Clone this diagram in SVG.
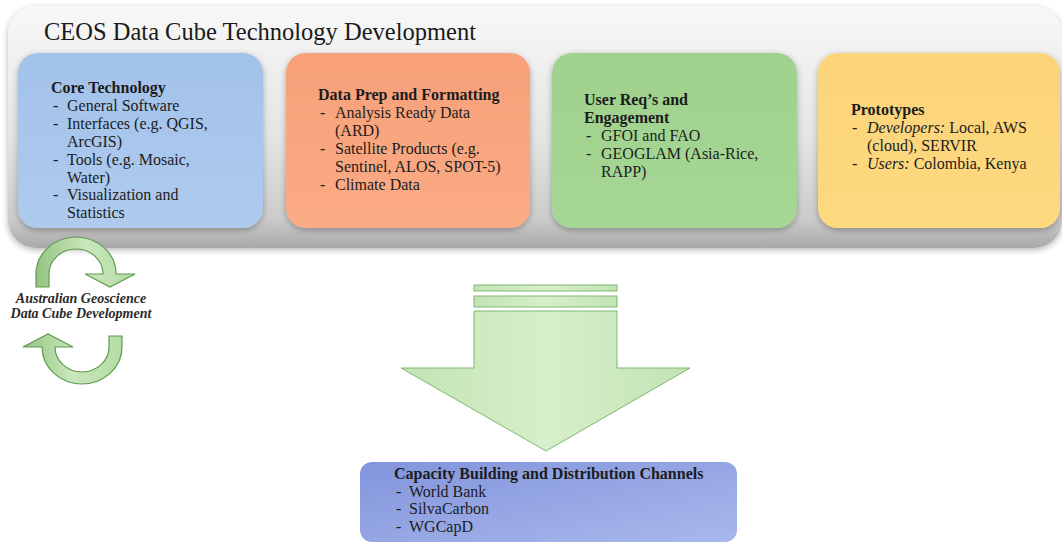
<svg xmlns="http://www.w3.org/2000/svg" width="1062" height="543" viewBox="0 0 1062 543">
  <style>
    .t { font-family: "Liberation Serif", "Times New Roman", serif; font-size: 16px; fill: #1c1c1c; }
    .h { font-weight: bold; }
    .i { font-style: italic; }
    .title { font-family: "Liberation Serif", "Times New Roman", serif; font-size: 24.5px; fill: #1a1a1a; }
    .cap { font-family: "Liberation Serif", "Times New Roman", serif; font-size: 14px; font-weight: bold; font-style: italic; fill: #2a2a2a; }
    .ga { fill: url(#ringGrad); stroke: #5f9a50; stroke-width: 1.2; }
    .big { fill: url(#bigGrad); stroke: #7fb870; stroke-width: 1; }
  </style>
  <defs>
    <linearGradient id="panelGrad" x1="0" y1="0" x2="0" y2="1">
      <stop offset="0" stop-color="#f8f8f8"/>
      <stop offset="0.55" stop-color="#e4e4e4"/>
      <stop offset="0.88" stop-color="#cbcbcb"/>
      <stop offset="1" stop-color="#a9a9a9"/>
    </linearGradient>
    <linearGradient id="blueGrad" x1="0" y1="0" x2="0" y2="1">
      <stop offset="0" stop-color="#a3c2ea"/>
      <stop offset="1" stop-color="#aecbee"/>
    </linearGradient>
    <linearGradient id="orangeGrad" x1="0" y1="0" x2="0" y2="1">
      <stop offset="0" stop-color="#f7a079"/>
      <stop offset="1" stop-color="#fbab85"/>
    </linearGradient>
    <linearGradient id="greenGrad" x1="0" y1="0" x2="0" y2="1">
      <stop offset="0" stop-color="#9fd28d"/>
      <stop offset="1" stop-color="#a6d695"/>
    </linearGradient>
    <linearGradient id="yellowGrad" x1="0" y1="0" x2="0" y2="1">
      <stop offset="0" stop-color="#fcd479"/>
      <stop offset="1" stop-color="#fdd97f"/>
    </linearGradient>
    <linearGradient id="capGrad" x1="0" y1="0" x2="1" y2="1">
      <stop offset="0" stop-color="#8294dc"/>
      <stop offset="1" stop-color="#a9b8ec"/>
    </linearGradient>
    <linearGradient id="ringGrad" x1="0" y1="0" x2="1" y2="0">
      <stop offset="0" stop-color="#93c483"/>
      <stop offset="0.5" stop-color="#c9e7bb"/>
      <stop offset="1" stop-color="#b4dca4"/>
    </linearGradient>
    <linearGradient id="bigGrad" x1="0" y1="0" x2="1" y2="0">
      <stop offset="0" stop-color="#c2e4b3"/>
      <stop offset="0.5" stop-color="#d7efcb"/>
      <stop offset="1" stop-color="#c2e4b3"/>
    </linearGradient>
    <filter id="soft" x="-10%" y="-10%" width="120%" height="125%">
      <feGaussianBlur in="SourceAlpha" stdDeviation="3"/>
      <feOffset dy="2"/>
      <feComponentTransfer><feFuncA type="linear" slope="0.3"/></feComponentTransfer>
      <feMerge><feMergeNode/><feMergeNode in="SourceGraphic"/></feMerge>
    </filter>
  </defs>

  <rect width="1062" height="543" fill="#ffffff"/>

  <!-- outer panel -->
  <g id="panel">
    <rect x="8" y="6" width="1054" height="242" rx="28" fill="url(#panelGrad)" filter="url(#soft)"/>
    <text class="title" x="44" y="40">CEOS Data Cube Technology Development</text>
  </g>

  <g id="core-technology">
    <rect x="18" y="53" width="245" height="175" rx="20" fill="url(#blueGrad)" filter="url(#soft)"/>
    <text class="t h" x="51" y="93">Core Technology</text>
    <text class="t" x="53" y="111">-</text><text class="t" x="67" y="111">General Software</text>
    <text class="t" x="53" y="129">-</text><text class="t" x="67" y="129">Interfaces (e.g. QGIS,</text>
    <text class="t" x="67" y="147">ArcGIS)</text>
    <text class="t" x="53" y="165">-</text><text class="t" x="67" y="165">Tools (e.g. Mosaic,</text>
    <text class="t" x="67" y="183">Water)</text>
    <text class="t" x="53" y="200">-</text><text class="t" x="67" y="200">Visualization and</text>
    <text class="t" x="67" y="218">Statistics</text>
  </g>

  <g id="data-prep">
    <rect x="286" y="53" width="244" height="175" rx="20" fill="url(#orangeGrad)" filter="url(#soft)"/>
    <text class="t h" x="318" y="100">Data Prep and Formatting</text>
    <text class="t" x="320" y="118">-</text><text class="t" x="335" y="118">Analysis Ready Data</text>
    <text class="t" x="335" y="136">(ARD)</text>
    <text class="t" x="320" y="154">-</text><text class="t" x="335" y="154">Satellite Products (e.g.</text>
    <text class="t" x="335" y="172">Sentinel, ALOS, SPOT-5)</text>
    <text class="t" x="320" y="190">-</text><text class="t" x="335" y="190">Climate Data</text>
  </g>

  <g id="user-engagement">
    <rect x="552" y="53" width="245" height="175" rx="20" fill="url(#greenGrad)" filter="url(#soft)"/>
    <text class="t h" x="584" y="105">User Req’s and</text>
    <text class="t h" x="584" y="123">Engagement</text>
    <text class="t" x="586" y="141">-</text><text class="t" x="601" y="141">GFOI and FAO</text>
    <text class="t" x="586" y="159">-</text><text class="t" x="601" y="159">GEOGLAM (Asia-Rice,</text>
    <text class="t" x="601" y="177">RAPP)</text>
  </g>

  <g id="prototypes">
    <rect x="818" y="53" width="242" height="175" rx="20" fill="url(#yellowGrad)" filter="url(#soft)"/>
    <text class="t h" x="851" y="115">Prototypes</text>
    <text class="t" x="852" y="133">-</text><text class="t" x="867" y="133"><tspan class="i">Developers:</tspan> Local, AWS</text>
    <text class="t" x="867" y="151">(cloud), SERVIR</text>
    <text class="t" x="852" y="169">-</text><text class="t" x="867" y="169"><tspan class="i">Users:</tspan> Colombia, Kenya</text>
  </g>

  <g id="capacity-building">
    <rect x="360" y="462" width="377" height="80" rx="12" fill="url(#capGrad)"/>
    <text class="t h" x="394" y="479">Capacity Building and Distribution Channels</text>
    <text class="t" x="396" y="497">-</text><text class="t" x="409" y="497">World Bank</text>
    <text class="t" x="396" y="514">-</text><text class="t" x="409" y="514">SilvaCarbon</text>
    <text class="t" x="396" y="532">-</text><text class="t" x="409" y="532">WGCapD</text>
  </g>

  <g id="agdc-cycle">
    <text class="cap" x="81" y="303" text-anchor="middle">Australian Geoscience</text>
    <text class="cap" x="81" y="318" text-anchor="middle">Data Cube Development</text>
  </g>

  <g id="connectors">
    <!-- development cycle arrows -->
    <path class="ga" d="M 36 287 L 36 274 A 40 37 0 0 1 116 274 L 135 274 L 110 287 L 85 274 L 103 274 A 27 25 0 0 0 49 274 L 49 287 Z"/>
    <path class="ga" d="M 122 336 L 122 347 A 40 37 0 0 1 42 347 L 23 347 L 48 334 L 73 347 L 55 347 A 27 25 0 0 0 109 347 L 109 336 Z"/>
    <!-- block arrow to distribution channels -->
    <rect class="big" x="474" y="285" width="143" height="6"/>
    <rect class="big" x="474" y="296" width="143" height="11"/>
    <polygon class="big" points="474,311 617,311 617,368 690,368 546,451 401,368 474,368"/>
  </g>
</svg>
